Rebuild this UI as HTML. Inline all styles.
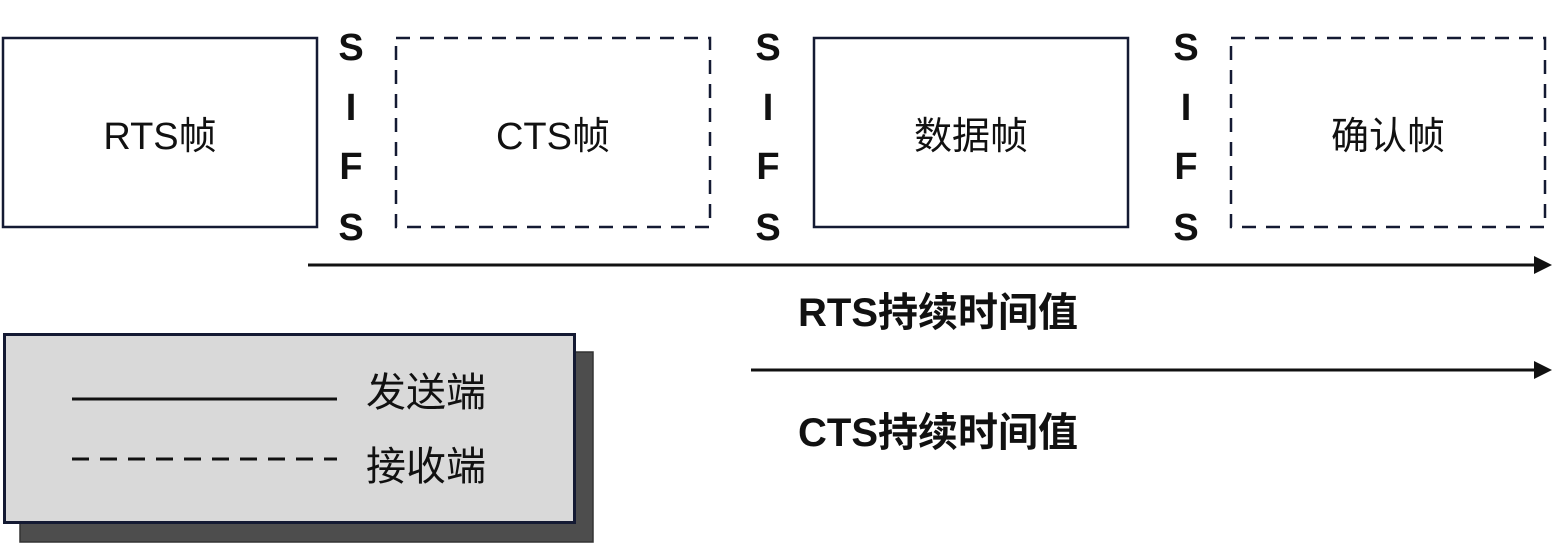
<!DOCTYPE html>
<html><head><meta charset="utf-8"><style>
html,body{margin:0;padding:0;background:#fff;}
svg{display:block;}
text{font-family:"Liberation Sans","Noto Sans CJK SC",sans-serif;fill:#111;}
</style></head><body>
<svg width="1566" height="547" viewBox="0 0 1566 547" xmlns="http://www.w3.org/2000/svg">
<g stroke="#141a33" stroke-width="2.5" fill="none">
<rect x="3" y="38" width="314" height="189"/>
<rect x="396" y="38" width="314" height="189" stroke-dasharray="14,10"/>
<rect x="814" y="38" width="314" height="189"/>
<rect x="1231" y="38" width="314" height="189" stroke-dasharray="14,10"/>
</g>
<g font-size="38" text-anchor="middle">
<text x="160" y="149">RTS帧</text>
<text x="553" y="149">CTS帧</text>
<text x="971" y="149">数据帧</text>
<text x="1388" y="149">确认帧</text>
</g>
<g font-size="38" font-weight="bold" text-anchor="middle">
<text x="351" y="60">S</text><text x="351" y="120">I</text><text x="351" y="179">F</text><text x="351" y="240">S</text>
<text x="768" y="60">S</text><text x="768" y="120">I</text><text x="768" y="179">F</text><text x="768" y="240">S</text>
<text x="1186" y="60">S</text><text x="1186" y="120">I</text><text x="1186" y="179">F</text><text x="1186" y="240">S</text>
</g>
<line x1="308" y1="265" x2="1538" y2="265" stroke="#111" stroke-width="3"/>
<polygon points="1534,256 1552,265 1534,274" fill="#111"/>
<line x1="751" y1="370" x2="1538" y2="370" stroke="#111" stroke-width="3"/>
<polygon points="1534,361 1552,370 1534,379" fill="#111"/>
<g font-size="40" font-weight="bold">
<text x="798" y="326">RTS持续时间值</text>
<text x="798" y="446">CTS持续时间值</text>
</g>
<rect x="20" y="352" width="573" height="190" fill="#4d4d4d" stroke="#333" stroke-width="1.5"/>
<rect x="4.5" y="334.5" width="570" height="188" fill="#d9d9d9" stroke="#141a33" stroke-width="3"/>
<line x1="72" y1="399" x2="337" y2="399" stroke="#111" stroke-width="3"/>
<line x1="72" y1="459" x2="337" y2="459" stroke="#111" stroke-width="3" stroke-dasharray="17,11"/>
<g font-size="40">
<text x="366" y="406">发送端</text>
<text x="366" y="480">接收端</text>
</g>
</svg>
</body></html>
